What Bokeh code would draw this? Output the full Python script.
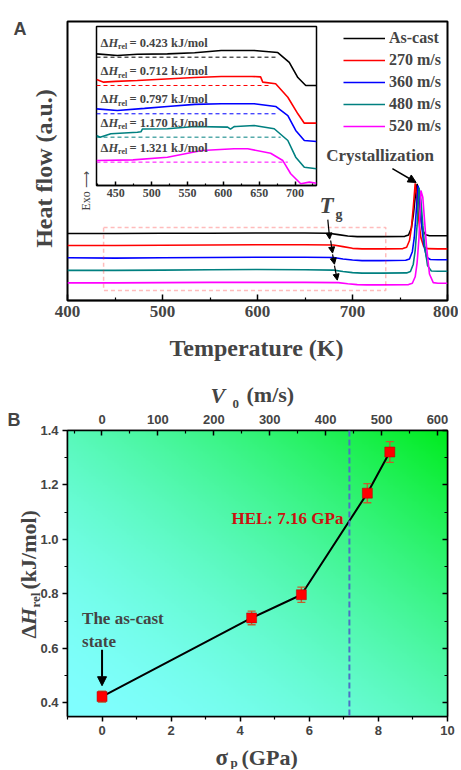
import numpy as np
from bokeh.plotting import figure
from bokeh.models import (Range1d, LinearAxis, Label, Legend, LegendItem, Arrow, NormalHead,
                          ColumnDataSource, BoxAnnotation, Span, FixedTicker, PrintfTickFormatter)
from bokeh.layouts import column
from bokeh.embed import file_html
from bokeh.resources import INLINE

SERIF = "Liberation Serif"
SANS = "Liberation Sans"

# ---------------- data ----------------
series_names = ["As-cast", "270 m/s", "360 m/s", "480 m/s", "520 m/s"]
series_colors = ["#000000", "#ff0000", "#0000ff", "#008080", "#ff00ff"]

# Panel A main DSC curves (temperature K, heat flow a.u.)
T_black = [400, 450, 500, 550, 600, 650, 675, 685, 695, 705, 730, 755, 759, 762, 764, 766, 768, 770, 772, 774, 777, 781, 790, 800]
h_black = [24.0, 24.0, 24.1, 24.1, 24.2, 24.2, 24.1, 23.6, 23.1, 22.9, 22.9, 23.0, 23.5, 26.0, 30.5, 37.0, 41.8, 37.0, 29.0, 25.0, 23.6, 23.2, 23.2, 23.2]
T_red = [400, 450, 500, 550, 600, 650, 680, 690, 700, 710, 730, 753, 757, 760, 762, 764, 766, 768, 770, 772, 775, 779, 790, 800]
h_red = [19.7, 19.7, 19.8, 19.9, 20.0, 20.0, 19.9, 19.3, 18.7, 18.5, 18.5, 18.6, 19.1, 21.5, 26.0, 33.5, 42.0, 36.0, 28.0, 22.5, 19.3, 18.6, 18.5, 18.5]
T_blue = [400, 450, 500, 550, 600, 650, 680, 690, 700, 710, 730, 756, 760, 763, 765, 767, 769, 771, 773, 775, 778, 782, 790, 800]
h_blue = [15.3, 15.2, 15.3, 15.4, 15.5, 15.5, 15.4, 14.9, 14.5, 14.3, 14.3, 14.4, 14.9, 17.5, 22.5, 31.5, 41.2, 35.5, 26.5, 20.0, 15.5, 14.7, 14.6, 14.6]
T_teal = [400, 450, 500, 550, 600, 650, 680, 690, 700, 710, 730, 757, 761, 764, 766, 768, 770, 772, 774, 776, 779, 783, 790, 800]
h_teal = [10.8, 10.8, 10.9, 11.0, 11.1, 11.0, 10.9, 10.4, 10.0, 9.8, 9.8, 9.9, 10.4, 13.0, 18.0, 27.0, 40.5, 36.0, 27.0, 19.5, 12.5, 10.6, 10.5, 10.5]
T_mag = [400, 450, 500, 550, 600, 650, 685, 695, 705, 715, 730, 759, 763, 766, 768, 770, 772, 774, 776, 778, 781, 785, 790, 800]
h_mag = [6.3, 6.3, 6.4, 6.5, 6.5, 6.5, 6.4, 6.0, 5.7, 5.6, 5.6, 5.7, 6.2, 8.5, 13.5, 22.5, 39.4, 37.0, 28.0, 19.0, 9.5, 6.4, 6.2, 6.2]

# Inset curves (temperature K, heat flow a.u.)
Ti_black = [423, 452, 480, 522, 560, 597, 643, 676, 692, 704, 715, 730]
hi_black = [82.8, 81.8, 82.5, 82.8, 83.5, 84.9, 84.9, 83.6, 77.4, 67.9, 62.9, 62.9]
Ti_red = [423, 433, 450, 480, 520, 560, 597, 640, 652, 655, 673, 690, 704, 713, 730]
hi_red = [66.7, 65.0, 65.5, 66.0, 67.0, 67.9, 68.6, 68.6, 68.3, 65.0, 64.0, 55.5, 45.1, 39.2, 39.2]
Ti_blue = [423, 452, 490, 522, 560, 597, 643, 673, 690, 701, 713, 730]
hi_blue = [48.2, 47.2, 48.5, 49.7, 51.0, 51.4, 51.4, 49.7, 44.0, 34.6, 28.3, 27.7]
Ti_teal = [423, 428, 443, 480, 485, 487, 522, 560, 606, 610, 615, 618, 643, 671, 690, 701, 713, 730]
hi_teal = [31.4, 30.4, 32.5, 33.5, 33.8, 35.5, 35.7, 37.1, 36.7, 35.5, 37.0, 37.1, 37.7, 35.7, 28.3, 17.8, 11.5, 10.5]
Ti_mag = [423, 474, 522, 570, 615, 634, 666, 683, 694, 708, 720, 730]
hi_mag = [15.7, 16.1, 17.8, 22.0, 23.1, 23.1, 20.3, 15.7, 7.4, 1.1, 2.1, 1.4]
# inset reference (dashed) baselines: level and end temperature
base_level = [80.7, 62.9, 45.1, 30.4, 14.7]
base_end = [677, 666, 677, 680, 690]

# Panel B
dH_rel = [0.423, 0.712, 0.797, 1.170, 1.321]
dH_err = [0.020, 0.025, 0.028, 0.035, 0.038]
sigma_p = [0.0, 4.33, 5.77, 7.68, 8.33]
hel_sigma = 7.16

# tick labels
A_ticks = [400, 500, 600, 700, 800]
inset_ticks = [450, 500, 550, 600, 650, 700]
B_sigma_ticks = [0, 2, 4, 6, 8, 10]
B_v_ticks = [0, 100, 200, 300, 400, 500, 600]
B_y_ticks = [0.4, 0.6, 0.8, 1.0, 1.2, 1.4]

main_T = [T_black, T_red, T_blue, T_teal, T_mag]
main_h = [h_black, h_red, h_blue, h_teal, h_mag]
ins_T = [Ti_black, Ti_red, Ti_blue, Ti_teal, Ti_mag]
ins_h = [hi_black, hi_red, hi_blue, hi_teal, hi_mag]

W = 458


def mids(t, lo=None, hi=None):
    m = [(a + b) / 2 for a, b in zip(t[:-1], t[1:])]
    step = t[1] - t[0]
    if lo is not None and t[0] - step / 2 >= lo:
        m = [t[0] - step / 2] + m
    if hi is not None and t[-1] + step / 2 <= hi:
        m = m + [t[-1] + step / 2]
    return m


def style_bold(ax, font, size):
    ax.major_label_text_font = font
    ax.major_label_text_font_style = "bold"
    ax.major_label_text_font_size = size
    ax.axis_line_width = 1.5
    ax.major_tick_line_width = 1.5
    ax.minor_tick_line_width = 1.2


# ---------------- Panel A ----------------
pA = figure(width=W, height=380, x_range=Range1d(400, 800), y_range=Range1d(0, 100),
            output_backend="svg", toolbar_location=None, y_axis_location=None,
            min_border_left=67, min_border_right=W - 447, min_border_top=21, min_border_bottom=80)
pA.xgrid.visible = False
pA.ygrid.visible = False
pA.outline_line_color = "black"
pA.outline_line_width = 2
xa = pA.xaxis[0]
xa.ticker = FixedTicker(ticks=A_ticks, minor_ticks=mids(A_ticks))
style_bold(xa, SERIF, "17px")
xa.major_tick_in, xa.major_tick_out = 6, 0
xa.minor_tick_in, xa.minor_tick_out = 3, 0
xa.major_label_standoff = 5

rends = []
for T, h, c in zip(main_T, main_h, series_colors):
    rends.append(pA.line(T, h, line_color=c, line_width=1.6))

pA.add_layout(BoxAnnotation(left=438, right=735, bottom=3.6, top=26.2, fill_alpha=0,
                            line_color="#ff2020", line_dash="4 3", line_width=1.5))

legend = Legend(items=[LegendItem(label=n, renderers=[r]) for n, r in zip(series_names, rends)],
                location=(276, 164), padding=0, margin=0, spacing=2,
                glyph_width=42, glyph_height=20, label_height=20, label_standoff=4,
                label_text_font=SERIF, label_text_font_style="bold", label_text_font_size="16px",
                border_line_alpha=0, background_fill_alpha=0)
pA.add_layout(legend)

pA.add_layout(Label(x=729, y=52, text="Crystallization", text_align="center", text_baseline="middle",
                    text_font=SERIF, text_font_style="bold", text_font_size="17px"))
pA.add_layout(Arrow(x_start=742, y_start=47.3, x_end=767, y_end=42.3, line_width=1.5,
                    end=NormalHead(size=8, fill_color="black", line_color="black")))

pA.add_layout(Label(x=672.6, y=34.2, text="T", text_align="center", text_baseline="middle",
                    text_font=SERIF, text_font_style="bold italic", text_font_size="23px"))
pA.add_layout(Label(x=672.6, y=34.2, x_offset=9, y_offset=-9, text="g", text_align="left",
                    text_baseline="middle", text_font=SERIF, text_font_style="bold", text_font_size="14px"))
for (x0, y0, x1, y1) in [(674, 29.0, 676, 22.0), (677, 21.5, 679, 17.0), (679, 16.5, 681, 13.0), (681, 12.5, 684, 7.3)]:
    pA.add_layout(Arrow(x_start=x0, y_start=y0, x_end=x1, y_end=y1, line_width=1.2,
                        end=NormalHead(size=6, fill_color="black", line_color="black")))

# ---------------- Inset ----------------
pI = figure(width=249, height=191, x_range=Range1d(423, 730), y_range=Range1d(0, 100),
            output_backend="svg", toolbar_location=None, y_axis_location=None,
            min_border_left=25, min_border_right=4, min_border_top=4, min_border_bottom=28)
pI.styles = {"position": "absolute", "left": "71px", "top": "22px", "z-index": "5"}
pI.xgrid.visible = False
pI.ygrid.visible = False
pI.outline_line_color = "black"
pI.outline_line_width = 1.5
pI.border_fill_alpha = 0
ia = pI.xaxis[0]
ia.ticker = FixedTicker(ticks=inset_ticks, minor_ticks=mids(inset_ticks, 423, 730))
style_bold(ia, SERIF, "12px")
ia.major_tick_in, ia.major_tick_out = 4, 0
ia.minor_tick_in, ia.minor_tick_out = 2, 0
ia.major_label_standoff = 3

for T, h, c, lvl, te, dh in zip(ins_T, ins_h, series_colors, base_level, base_end, dH_rel):
    pI.line(T, h, line_color=c, line_width=1.6)
    pI.line([423, te], [lvl, lvl], line_color=c, line_width=1, line_dash="4 3")
    ly = lvl + 9
    pI.add_layout(Label(x=423, y=ly, x_offset=4, text="\u0394", text_baseline="middle",
                        text_font=SERIF, text_font_style="bold", text_font_size="12.5px"))
    pI.add_layout(Label(x=423, y=ly, x_offset=12, text="H", text_baseline="middle",
                        text_font=SERIF, text_font_style="bold italic", text_font_size="12.5px"))
    pI.add_layout(Label(x=423, y=ly, x_offset=21.5, y_offset=-4, text="rel", text_baseline="middle",
                        text_font=SERIF, text_font_style="bold", text_font_size="8px"))
    pI.add_layout(Label(x=423, y=ly, x_offset=33, text="= %.3f kJ/mol" % dh, text_baseline="middle",
                        text_font=SERIF, text_font_style="bold", text_font_size="12.5px"))

# ---------------- Panel B ----------------
pB = figure(width=W, height=389, x_range=Range1d(-1, 10), y_range=Range1d(0.35, 1.4),
            output_backend="svg", toolbar_location=None,
            min_border_left=67, min_border_right=W - 447, min_border_top=50, min_border_bottom=53)
pB.xgrid.visible = False
pB.ygrid.visible = False
pB.outline_line_color = "black"
pB.outline_line_width = 1.5

# background gradient (cyan bottom-left -> green top-right)
nx, ny = 220, 160
u = np.linspace(0, 1, nx)[None, :]
v = np.linspace(0, 1, ny)[:, None]
t = ((u + v) / 2) ** 1.7
c0 = np.array([128, 255, 255], dtype=float)
c1 = np.array([0, 236, 30], dtype=float)
rgb = c0[None, None, :] + (c1 - c0)[None, None, :] * t[..., None]
img = np.zeros((ny, nx), dtype=np.uint32)
view = img.view(dtype=np.uint8).reshape((ny, nx, 4))
view[..., 0] = rgb[..., 0].astype(np.uint8)
view[..., 1] = rgb[..., 1].astype(np.uint8)
view[..., 2] = rgb[..., 2].astype(np.uint8)
view[..., 3] = 255
pB.image_rgba(image=[img], x=-1, y=0.35, dw=11, dh=1.05)

bx = pB.xaxis[0]
bx.ticker = FixedTicker(ticks=B_sigma_ticks, minor_ticks=mids(B_sigma_ticks, -1, 10))
style_bold(bx, SANS, "13px")
bx.major_tick_in, bx.major_tick_out = 0, 5
bx.minor_tick_in, bx.minor_tick_out = 0, 3
bx.major_label_standoff = 4

by = pB.yaxis[0]
by.ticker = FixedTicker(ticks=B_y_ticks, minor_ticks=mids(B_y_ticks))
by.formatter = PrintfTickFormatter(format="%.1f")
style_bold(by, SANS, "13px")
by.major_tick_in, by.major_tick_out = 0, 5
by.minor_tick_in, by.minor_tick_out = 0, 3
by.major_label_standoff = 4

pB.extra_x_ranges = {"v0": Range1d(-61.7, 617.9)}
top_ax = LinearAxis(x_range_name="v0", ticker=FixedTicker(ticks=B_v_ticks, minor_ticks=mids(B_v_ticks, -61.7, 617.9)))
style_bold(top_ax, SANS, "13px")
top_ax.major_tick_in, top_ax.major_tick_out = 5, 0
top_ax.minor_tick_in, top_ax.minor_tick_out = 3, 0
top_ax.major_label_standoff = 7
pB.add_layout(top_ax, "above")

right_ax = LinearAxis(ticker=FixedTicker(ticks=B_y_ticks, minor_ticks=mids(B_y_ticks)))
style_bold(right_ax, SANS, "1px")
right_ax.major_label_text_alpha = 0
right_ax.major_tick_in, right_ax.major_tick_out = 5, 0
right_ax.minor_tick_in, right_ax.minor_tick_out = 3, 0
right_ax.major_label_standoff = 0
pB.add_layout(right_ax, "right")

pB.add_layout(Span(location=hel_sigma, dimension="height", line_color="#4e6fc6", line_width=2,
                   line_dash="6 3"))

pB.line(sigma_p, dH_rel, line_color="black", line_width=2)
src = ColumnDataSource(dict(x=sigma_p, y=dH_rel,
                            upper=[a + e for a, e in zip(dH_rel, dH_err)],
                            lower=[a - e for a, e in zip(dH_rel, dH_err)]))
ERR = "#c0602e"
pB.segment(x0="x", y0="lower", x1="x", y1="upper", source=src, line_color=ERR, line_width=1.4)
pB.scatter("x", "upper", source=src, marker="dash", size=8, line_color=ERR, line_width=1.4)
pB.scatter("x", "lower", source=src, marker="dash", size=8, line_color=ERR, line_width=1.4)
pB.scatter("x", "y", source=src, marker="square", size=10, fill_color="#ff0000",
           line_color="#b00000", line_width=0.5)

pB.add_layout(Label(x=hel_sigma, y=1.076, x_offset=-6, text="HEL: %.2f GPa" % hel_sigma,
                    text_align="right", text_baseline="middle", text_color="#cc1010",
                    text_font=SERIF, text_font_style="bold", text_font_size="17px"))
pB.add_layout(Label(x=sigma_p[0], y=0.709, x_offset=-20, text="The as-cast", text_baseline="middle",
                    text_font=SERIF, text_font_style="bold", text_font_size="17px"))
pB.add_layout(Label(x=sigma_p[0], y=0.625, x_offset=-20, text="state", text_baseline="middle",
                    text_font=SERIF, text_font_style="bold", text_font_size="17px"))
pB.add_layout(Arrow(x_start=sigma_p[0], y_start=0.595, x_end=sigma_p[0], y_end=dH_rel[0] + 0.04,
                    line_width=2, end=NormalHead(size=9, fill_color="black", line_color="black")))

# ---------------- Text layer (titles outside the plot frames) ----------------
H = 769
pT = figure(width=W, height=H, x_range=Range1d(0, W), y_range=Range1d(H, 0),
            output_backend="svg", toolbar_location=None, x_axis_location=None, y_axis_location=None,
            min_border=0)
pT.styles = {"position": "absolute", "left": "0px", "top": "0px", "z-index": "10",
             "pointer-events": "none"}
pT.xgrid.visible = False
pT.ygrid.visible = False
pT.outline_line_color = None
pT.background_fill_alpha = 0
pT.border_fill_alpha = 0


def lab(x, y, text, size, style="bold", angle=0.0, align="left", baseline="alphabetic", font=SERIF):
    pT.add_layout(Label(x=x, y=y, text=text, angle=angle, text_align=align, text_baseline=baseline,
                        text_font=font, text_font_style=style, text_font_size=size))


R = np.pi / 2
lab(13, 28, "A", "18px", font=SANS)
lab(43, 168, "Heat flow (a.u.)", "24px", angle=R, align="center", baseline="middle")
lab(256, 347, "Temperature (K)", "24px", align="center")
lab(85, 210, "Exo \u27f6", "12px", style="normal", angle=R)

lab(7, 419, "B", "18px", font=SANS)
lab(210, 395, "V", "22px", "bold italic")
lab(232, 403, "0", "13px")
lab(246, 394, "(m/s)", "22px")

lab(215, 757, "\u03c3", "23px")
lab(230, 762, "p", "13px")
lab(241, 757, "(GPa)", "22px")

lab(28, 638, "\u0394", "22px", angle=R)
lab(28, 624.5, "H", "22px", "bold italic", angle=R)
lab(35, 607, "rel", "13px", angle=R)
lab(28, 589, "(kJ/mol)", "22px", angle=R)

main = column(pA, pB, spacing=0)
open("out.html", "w").write(file_html([main, pI, pT], INLINE))
